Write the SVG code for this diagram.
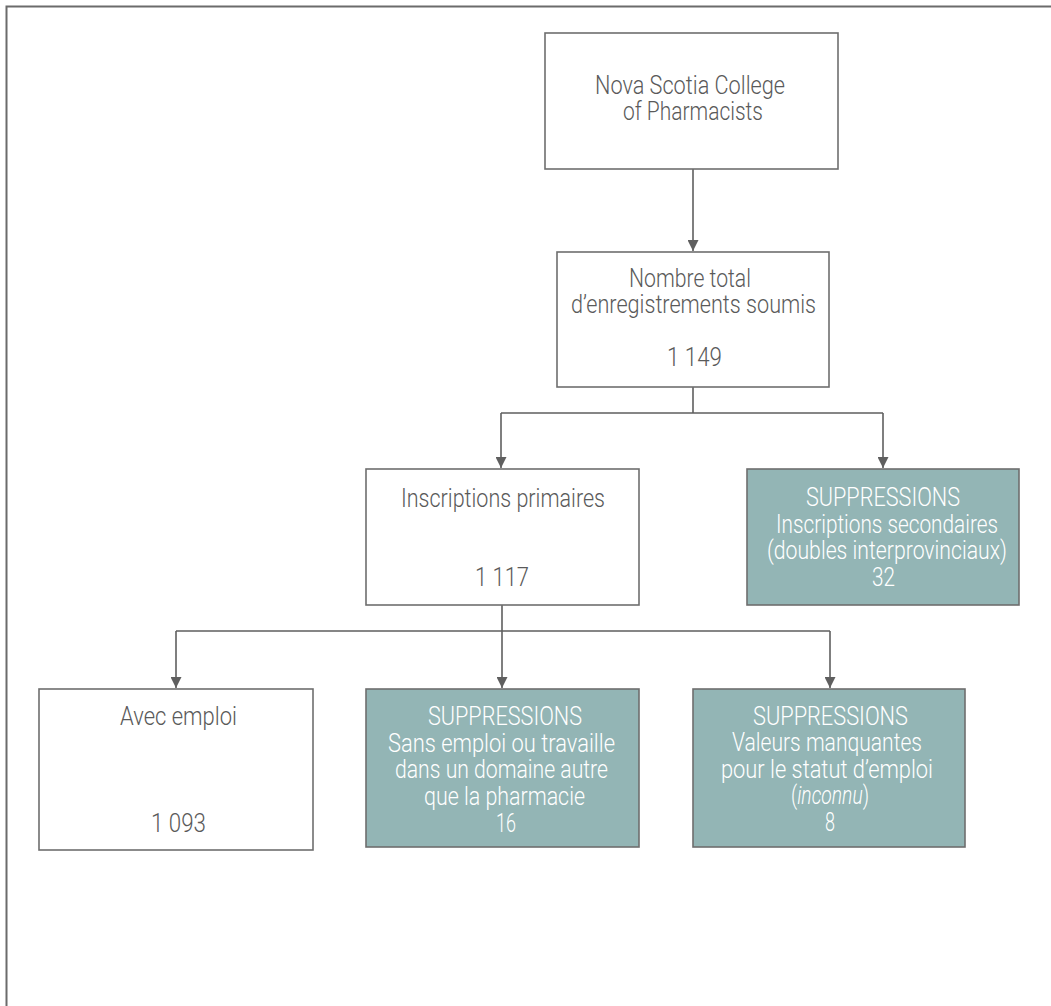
<svg xmlns="http://www.w3.org/2000/svg" width="1051" height="1006" viewBox="0 0 1051 1006">
<style>
.box{fill:#ffffff;stroke:#6e6e6e;stroke-width:1.6}
.sup{fill:#93b5b5;stroke:#6e6e6e;stroke-width:1.6}
text{font-family:"Roboto","Liberation Sans",sans-serif;font-weight:300;font-size:25px}
.dk{fill:#5a5a5a}
.wt{fill:#ffffff}
.ln{fill:none;stroke:#5f5f5f;stroke-width:1.6}
</style>
<defs>
<marker id="arr" markerUnits="userSpaceOnUse" markerWidth="11" markerHeight="11" refX="10" refY="5" orient="auto" viewBox="0 0 10 10">
<path d="M0,0 L10,5 L0,10 z" fill="#5f5f5f"/>
</marker>
</defs>
<rect width="1051" height="1006" fill="#ffffff"/>
<path d="M6.5,1006 V6.5 H1051" fill="none" stroke="#6b6b6b" stroke-width="2"/>

<g id="connectors">
<path class="ln" d="M693,169 V251" marker-end="url(#arr)"/>
<path class="ln" d="M693,387 V413 M501,413 H883"/>
<path class="ln" d="M501,413 V468" marker-end="url(#arr)"/>
<path class="ln" d="M883,413 V468" marker-end="url(#arr)"/>
<path class="ln" d="M502,605 V631 M176,631 H830"/>
<path class="ln" d="M176,631 V688" marker-end="url(#arr)"/>
<path class="ln" d="M502,631 V688" marker-end="url(#arr)"/>
<path class="ln" d="M830,631 V688" marker-end="url(#arr)"/>
</g>

<g id="n1">
<rect class="box" x="545" y="33" width="293" height="136"/>
<text class="dk" x="595" y="94" textLength="190" lengthAdjust="spacingAndGlyphs">Nova Scotia College</text>
<text class="dk" x="623" y="120" textLength="140" lengthAdjust="spacingAndGlyphs">of Pharmacists</text>
</g>

<g id="n2">
<rect class="box" x="557" y="252" width="272" height="135"/>
<text class="dk" x="629" y="287" textLength="122" lengthAdjust="spacingAndGlyphs">Nombre total</text>
<text class="dk" x="571" y="313" textLength="245" lengthAdjust="spacingAndGlyphs">d’enregistrements soumis</text>
<text class="dk" x="667" y="366" textLength="55" lengthAdjust="spacingAndGlyphs">1 149</text>
</g>

<g id="n3">
<rect class="box" x="366" y="469" width="273" height="136"/>
<text class="dk" x="401" y="507" textLength="204" lengthAdjust="spacingAndGlyphs">Inscriptions primaires</text>
<text class="dk" x="475" y="586" textLength="54" lengthAdjust="spacingAndGlyphs">1 117</text>
</g>

<g id="n4">
<rect class="sup" x="747" y="469" width="272" height="136"/>
<text class="wt" x="806" y="506" textLength="154" lengthAdjust="spacingAndGlyphs">SUPPRESSIONS</text>
<text class="wt" x="776" y="533" textLength="222" lengthAdjust="spacingAndGlyphs">Inscriptions secondaires</text>
<text class="wt" x="767" y="559" textLength="240" lengthAdjust="spacingAndGlyphs">(doubles interprovinciaux)</text>
<text class="wt" x="872" y="586" textLength="23" lengthAdjust="spacingAndGlyphs">32</text>
</g>

<g id="n5">
<rect class="box" x="39" y="689" width="274" height="161"/>
<text class="dk" x="120" y="725" textLength="117" lengthAdjust="spacingAndGlyphs">Avec emploi</text>
<text class="dk" x="151" y="832" textLength="55" lengthAdjust="spacingAndGlyphs">1 093</text>
</g>

<g id="n6">
<rect class="sup" x="366" y="689" width="273" height="158"/>
<text class="wt" x="428" y="725" textLength="154" lengthAdjust="spacingAndGlyphs">SUPPRESSIONS</text>
<text class="wt" x="388" y="752" textLength="227" lengthAdjust="spacingAndGlyphs">Sans emploi ou travaille</text>
<text class="wt" x="395" y="778" textLength="213" lengthAdjust="spacingAndGlyphs">dans un domaine autre</text>
<text class="wt" x="424" y="805" textLength="161" lengthAdjust="spacingAndGlyphs">que la pharmacie</text>
<text class="wt" x="496" y="832" textLength="20" lengthAdjust="spacingAndGlyphs">16</text>
</g>

<g id="n7">
<rect class="sup" x="693" y="689" width="272" height="158"/>
<text class="wt" x="753" y="725" textLength="155" lengthAdjust="spacingAndGlyphs">SUPPRESSIONS</text>
<text class="wt" x="732" y="751" textLength="190" lengthAdjust="spacingAndGlyphs">Valeurs manquantes</text>
<text class="wt" x="721" y="778" textLength="212" lengthAdjust="spacingAndGlyphs">pour le statut d’emploi</text>
<text class="wt" x="791" y="804" textLength="78" lengthAdjust="spacingAndGlyphs">(<tspan font-style="italic">inconnu</tspan>)</text>
<text class="wt" x="825" y="831" textLength="10" lengthAdjust="spacingAndGlyphs">8</text>
</g>
</svg>
